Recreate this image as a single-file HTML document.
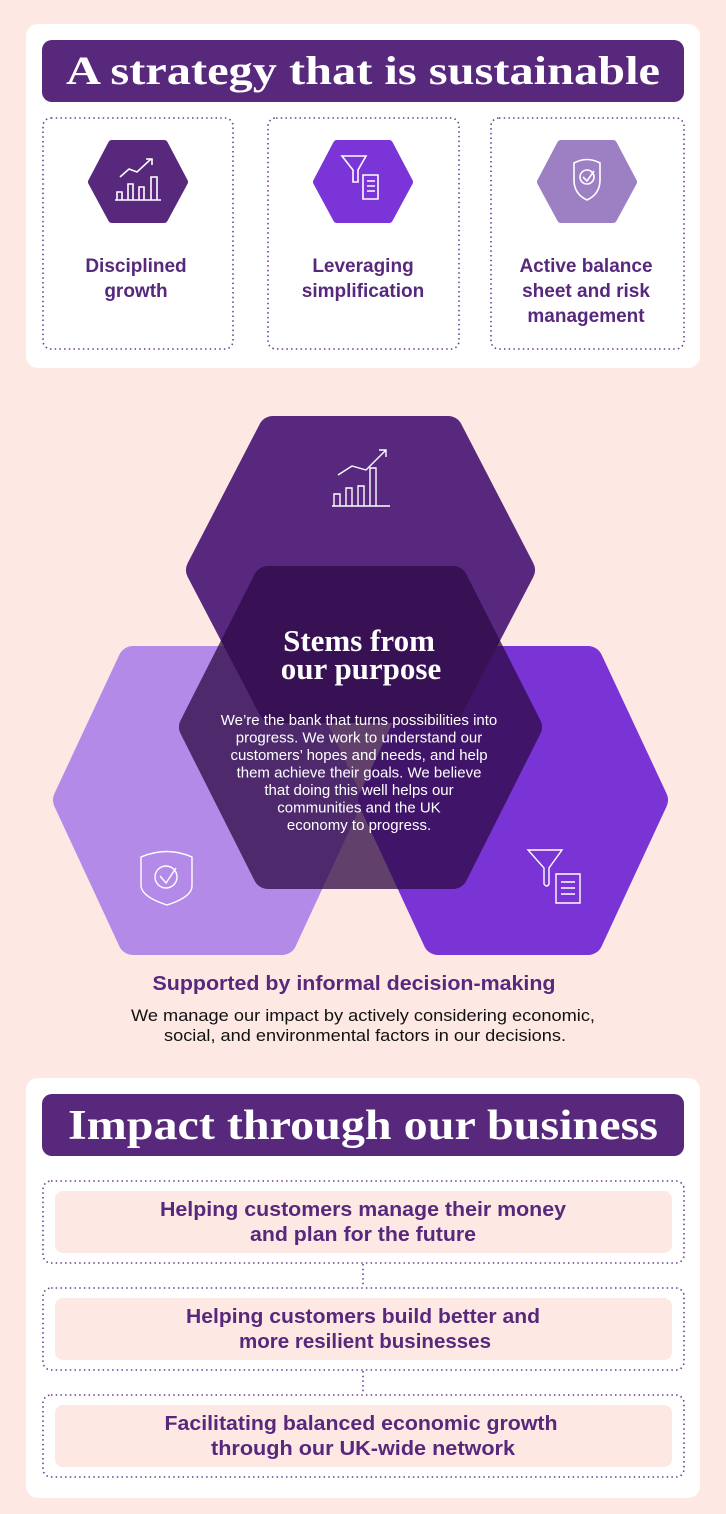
<!DOCTYPE html>
<html><head><meta charset="utf-8"><style>
html,body{margin:0;padding:0;background:#fde8e4;}
svg{display:block}
.s{font-family:"Liberation Serif",serif;font-weight:bold;fill:#fff}
.b{font-family:"Liberation Sans",sans-serif;font-weight:bold;fill:#57287c}
.r{font-family:"Liberation Sans",sans-serif;fill:#fff}
.k{font-family:"Liberation Sans",sans-serif;fill:#111}
</style></head><body>
<svg width="726" height="1514" viewBox="0 0 726 1514" xmlns="http://www.w3.org/2000/svg">
<rect width="726" height="1514" fill="#fde8e4"/>
<rect x="26" y="24" width="674" height="344" rx="12" fill="#fff"/>
<rect x="42" y="40" width="642" height="62" rx="10" fill="#57287c"/>
<text class="s" x="363" y="84" font-size="40" text-anchor="middle" textLength="594" lengthAdjust="spacingAndGlyphs">A strategy that is sustainable</text>
<g fill="none" stroke="#6a3f8e" stroke-width="1.6" stroke-dasharray="1.5 3.2">
<rect x="43" y="118" width="190" height="231" rx="8"/>
<rect x="268" y="118" width="191" height="231" rx="8"/>
<rect x="491" y="118" width="193" height="231" rx="8"/>
</g>
<g stroke-linejoin="round" stroke-width="8">
<polygon points="92,182 112,144 164,144 184,182 164,219 112,219" fill="#57287c" stroke="#57287c"/>
<polygon points="317,182 337,144 389,144 409,182 389,219 337,219" fill="#7b34d8" stroke="#7b34d8"/>
<polygon points="541,182 561,144 613,144 633,182 613,219 561,219" fill="#9d7fc4" stroke="#9d7fc4"/>
</g>
<g fill="none" stroke="#fff" stroke-width="1.6">
<path d="M115,200 H161 M117,200 V192 H122 V200 M128,200 V184 H133 V200 M139,200 V187 H144 V200 M151,200 V177 H157 V200 M120,177 L129,169 L137,172 L151,159 M146,159 H152 V165"/>
<path d="M342,156 H366 L358,170 V182 H353 V170 Z M363,175 H378 V199 H363 Z M367,181 H375 M367,186 H375 M367,191 H375"/>
<path d="M574,163 Q587,156 600,163 V180 Q600,194 587,200 Q574,194 574,180 Z"/>
<circle cx="587" cy="177" r="7"/>
<path d="M583,177 L587,181 L594,171"/>
</g>
<text class="b" font-size="19" text-anchor="middle"><tspan x="136" y="272">Disciplined</tspan><tspan x="136" y="297">growth</tspan></text>
<text class="b" font-size="19" text-anchor="middle"><tspan x="363" y="272">Leveraging</tspan><tspan x="363" y="297">simplification</tspan></text>
<text class="b" font-size="19" text-anchor="middle"><tspan x="586" y="272">Active balance</tspan><tspan x="586" y="297">sheet and risk</tspan><tspan x="586" y="322">management</tspan></text>

<g stroke-linejoin="round" stroke-width="30">
<polygon points="68,800 133,661 282,661 347,800 282,940 133,940" fill="#b48ae8" stroke="#b48ae8"/>
<polygon points="373,800 438,661 588,661 653,800 588,940 438,940" fill="#7a34d6" stroke="#7a34d6"/>
<polygon points="201,570 273,431 448,431 520,570 448,708 273,708" fill="#58287f" stroke="#58287f"/>
<polygon points="194,727 268,581 453,581 527,727 453,874 268,874" fill="#2d0a45" stroke="#2d0a45" opacity="0.75"/>
</g>
<g fill="none" stroke="#fff" stroke-width="1.4">
<path d="M332,506 H390 M334,506 V494 H340 V506 M346,506 V488 H352 V506 M358,506 V486 H364 V506 M370,506 V468 H376 V506 M338,475 L352,466 L366,470 L386,450 M379,450 H386 V457"/>
<path d="M141,857 Q167,846 192,857 V886 Q192,897 167,905 Q142,897 141,886 Z"/>
<circle cx="166" cy="877" r="11"/>
<path d="M160,876 L166,883 L176,868"/>
<path d="M528,850 H562 L549,868 V884 Q547,888 544,884 V868 Z M556,874 H580 V903 H556 Z M561,882 H575 M561,888 H575 M561,894 H575"/>
</g>
<text class="s" font-size="31" text-anchor="middle"><tspan x="359" y="651">Stems from</tspan><tspan x="361" y="679">our purpose</tspan></text>
<text class="r" font-size="15" text-anchor="middle"><tspan x="359" y="725">We’re the bank that turns possibilities into</tspan><tspan x="359" y="742.5">progress. We work to understand our</tspan><tspan x="359" y="760">customers’ hopes and needs, and help</tspan><tspan x="359" y="777.5">them achieve their goals. We believe</tspan><tspan x="359" y="795">that doing this well helps our</tspan><tspan x="359" y="812.5">communities and the UK</tspan><tspan x="359" y="830">economy to progress.</tspan></text>

<text class="b" x="354" y="990" font-size="20" text-anchor="middle" textLength="403" lengthAdjust="spacingAndGlyphs">Supported by informal decision-making</text>
<text class="k" font-size="16.5" text-anchor="middle"><tspan x="363" y="1021" textLength="464" lengthAdjust="spacingAndGlyphs">We manage our impact by actively considering economic,</tspan><tspan x="365" y="1041" textLength="402" lengthAdjust="spacingAndGlyphs">social, and environmental factors in our decisions.</tspan></text>

<rect x="26" y="1078" width="674" height="420" rx="12" fill="#fff"/>
<rect x="42" y="1094" width="642" height="62" rx="10" fill="#57287c"/>
<text class="s" x="363" y="1139" font-size="42" text-anchor="middle" textLength="590" lengthAdjust="spacingAndGlyphs">Impact through our business</text>
<g fill="none" stroke="#6a3f8e" stroke-width="1.6" stroke-dasharray="1.5 3.2">
<rect x="43" y="1181" width="641" height="82" rx="8"/>
<rect x="43" y="1288" width="641" height="82" rx="8"/>
<rect x="43" y="1395" width="641" height="82" rx="8"/>
<path d="M363,1264 V1287 M363,1371 V1394"/>
</g>
<g fill="#fde8e4">
<rect x="55" y="1191" width="617" height="62" rx="8"/>
<rect x="55" y="1298" width="617" height="62" rx="8"/>
<rect x="55" y="1405" width="617" height="62" rx="8"/>
</g>
<text class="b" font-size="20" text-anchor="middle"><tspan x="363" y="1216" textLength="406" lengthAdjust="spacingAndGlyphs">Helping customers manage their money</tspan><tspan x="363" y="1241" textLength="226" lengthAdjust="spacingAndGlyphs">and plan for the future</tspan></text>
<text class="b" font-size="20" text-anchor="middle"><tspan x="363" y="1323" textLength="354" lengthAdjust="spacingAndGlyphs">Helping customers build better and</tspan><tspan x="365" y="1348" textLength="252" lengthAdjust="spacingAndGlyphs">more resilient businesses</tspan></text>
<text class="b" font-size="20" text-anchor="middle"><tspan x="361" y="1430" textLength="393" lengthAdjust="spacingAndGlyphs">Facilitating balanced economic growth</tspan><tspan x="363" y="1455" textLength="304" lengthAdjust="spacingAndGlyphs">through our UK-wide network</tspan></text>
</svg>
</body></html>
